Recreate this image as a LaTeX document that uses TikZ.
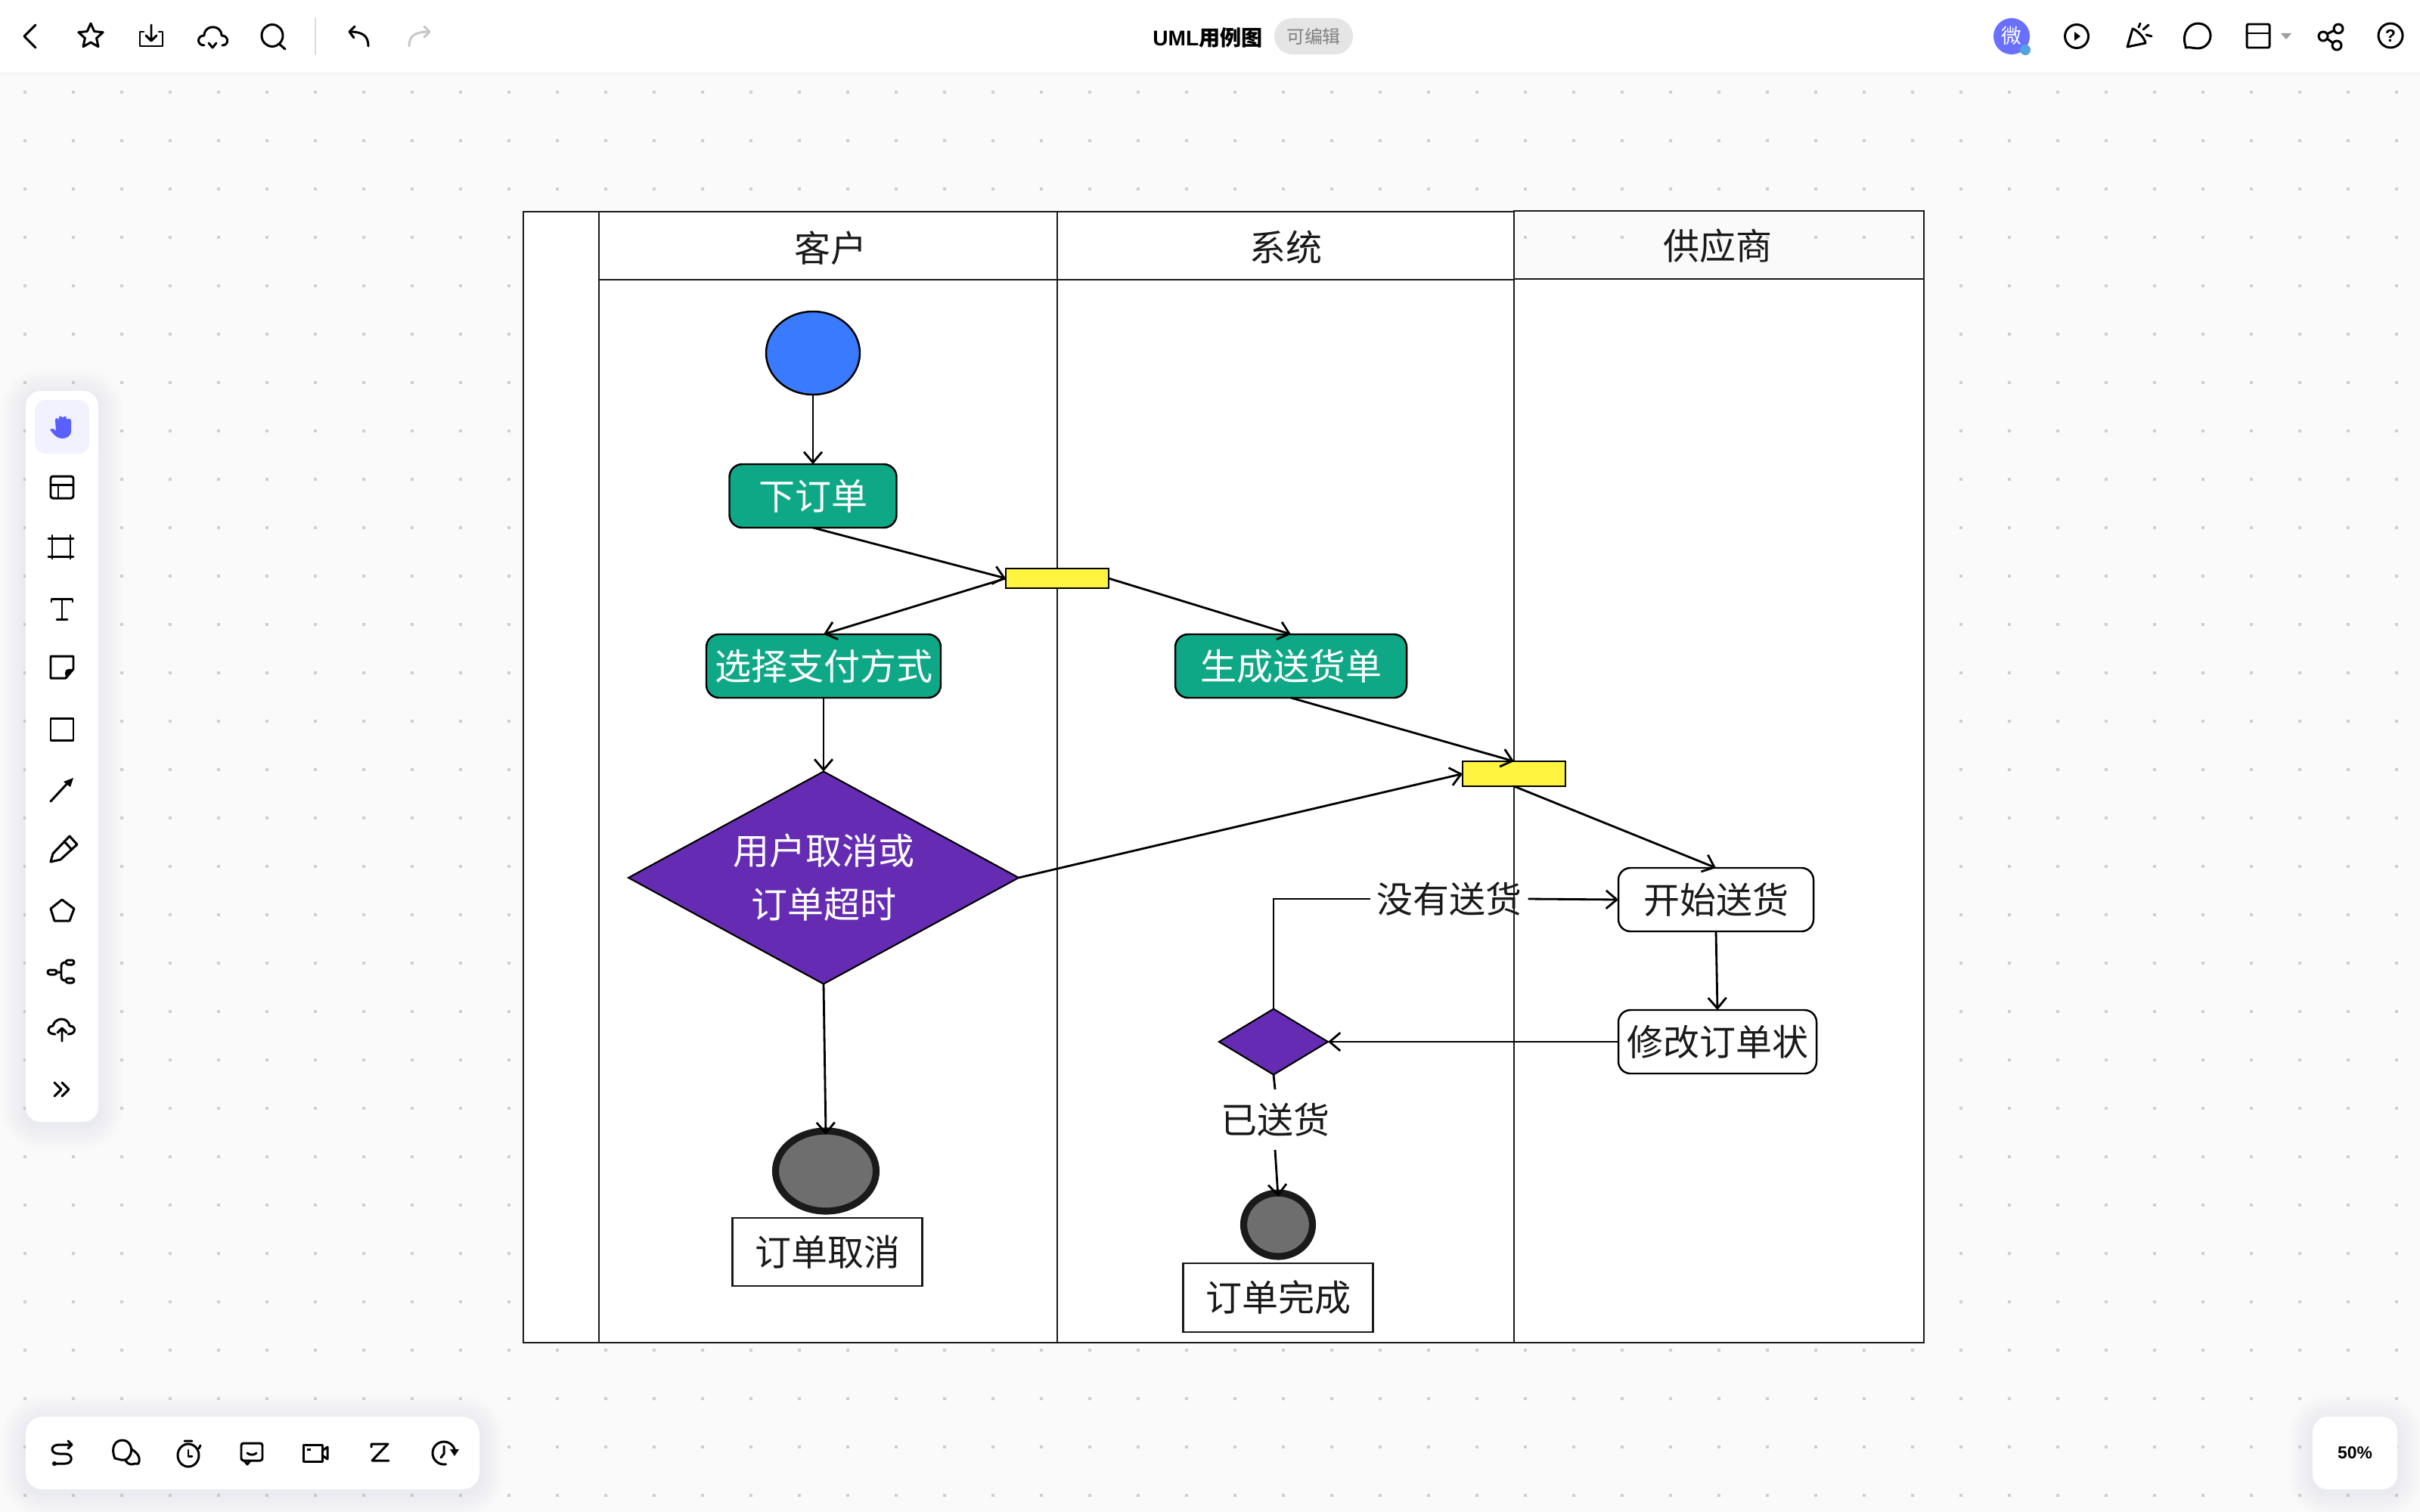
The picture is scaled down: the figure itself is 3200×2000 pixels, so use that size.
\documentclass[tikz,border=0pt]{standalone}
\usepackage{fontspec}
\usetikzlibrary{arrows.meta,shapes.geometric,calc}
\setmainfont{Noto Sans CJK SC}
\newfontfamily\lib{Liberation Sans}
\definecolor{bgc}{HTML}{FAFAFA}
\definecolor{dotc}{HTML}{CFCFCF}
\definecolor{ink}{HTML}{1A1A1A}
\definecolor{teal}{HTML}{0FA886}
\definecolor{purp}{HTML}{652CB3}
\definecolor{bluec}{HTML}{3A7AFE}
\definecolor{yel}{HTML}{FFF440}
\definecolor{greyc}{HTML}{6E6E6E}
\definecolor{accent}{HTML}{5860FF}
\definecolor{shad}{HTML}{50587A}
\newcommand\bodytxt{\fontsize{13.65pt}{20.2pt}\selectfont}
\newcommand\softpanel[5]{%
  \foreach \s in {4,8,...,32}{\fill[shad,opacity=0.006,rounded corners={(#5+\s)*0.01cm}] ({#1-\s},{#2-\s+4}) rectangle ({#3+\s},{#4+\s+4});}
  \fill[white,rounded corners={#5*0.01cm}] (#1,#2) rectangle (#3,#4);}
\tikzset{
  x=0.01cm,y=-0.01cm,
  wh/.style 2 args={minimum width=#1*0.01cm,minimum height=#2*0.01cm},
  base/.style={inner sep=0pt,outer sep=0pt,font=\bodytxt,text=ink,align=center},
  shapeline/.style={draw=black,line width=0.7pt},
  action/.style={base,shapeline,rectangle,rounded corners=0.17cm,fill=teal,text=white},
  plainstate/.style={base,shapeline,rectangle,rounded corners=0.16cm,fill=white},
  note/.style={base,draw=ink,line width=0.6pt,rectangle,fill=white},
  bar/.style={base,shapeline,rectangle,fill=yel},
  decision/.style={base,draw=black,line width=0.6pt,diamond,fill=purp,text=white},
  final/.style={base,ellipse,draw=ink,line width=2.6pt,fill=greyc},
  lanehead/.style={base},
  label/.style={base},
  flow/.style={draw=black,line width=0.8pt,-{Straight Barb[length=4pt,width=6.8pt]}},
  plainflow/.style={draw=black,line width=0.8pt},
  lane/.style={draw=ink,line width=0.62pt},
  ic/.style={draw=black,line width=0.85pt,line cap=round,line join=round},
  icsoft/.style={draw=#1,line width=0.85pt,line cap=round,line join=round},
  icfill/.style={fill=black,draw=none},
}
\begin{document}
\begin{tikzpicture}
\useasboundingbox (0,0) rectangle (3200,2000);
\clip (0,0) rectangle (3200,2000);
% canvas
\fill[bgc] (0,0) rectangle (3200,2000);
\foreach \i in {0,...,49}{\foreach \j in {0,...,29}{\fill[dotc] ({31+64*\i},{120+64*\j}) rectangle ++(4,4);}}
% top bar
\fill[black,opacity=0.012] (0,96) rectangle (3200,100);
\fill[black,opacity=0.012] (0,96) rectangle (3200,98);
\fill[white] (0,0) rectangle (3200,96);
% panels
\softpanel{34}{517}{130}{1484}{20}
\softpanel{34}{1874}{634}{1970}{22}
\softpanel{3058}{1874}{3170}{1970}{20}
% swimlanes
\fill[white] (692,280) rectangle (2002,1776);
\fill[white] (2002,369) rectangle (2544,1776);
\draw[lane] (692,280) rectangle (2002,1776);
\draw[lane] (792,280) -- (792,1776);
\draw[lane] (1398,280) -- (1398,1776);
\draw[lane] (792,370) -- (2002,370);
\draw[lane] (2002,279) rectangle (2544,1776);
\draw[lane] (2002,369) -- (2544,369);
\node[lanehead] (h1) at (1098,328) {客户};
\node[lanehead] (h2) at (1700,327) {系统};
\node[lanehead] (h3) at (2271,325) {供应商};
% flow nodes
\node[base,ellipse,draw=black,line width=0.7pt,fill=bluec,wh={124}{110}] (start) at (1075,467) {};
\node[action,wh={221}{84}] (order) at (1075,656) {下订单};
\node[bar,wh={136}{26}] (fork1) at (1398,765) {};
\node[action,wh={310}{84}] (pay) at (1089,881) {选择支付方式};
\node[action,wh={306}{84}] (ship) at (1707,881) {生成送货单};
\node[decision,wh={516}{281},aspect=1.836] (cancelq) at (1089,1161) {\raisebox{-0.03cm}{用户取消或}\\\raisebox{-0.03cm}{订单超时}};
\node[bar,wh={136}{33}] (fork2) at (2002,1023.5) {};
\node[plainstate,wh={258}{84}] (begin) at (2269,1190) {开始送货};
\node[plainstate,wh={262}{84}] (update) at (2271,1378) {修改订单状};
\node[decision,wh={144}{87},aspect=1.655] (shipq) at (1684,1378) {};
\node[final,wh={133}{106}] (end1) at (1092,1549) {};
\node[note,wh={251}{90}] (end1t) at (1094,1656) {订单取消};
\node[final,wh={91}{84}] (end2) at (1690,1620) {};
\node[note,wh={251}{91}] (end2t) at (1690,1716.5) {订单完成};
\node[label,wh={209}{60}] (noship) at (1916,1189) {没有送货};
\node[label,wh={140}{80}] (shipped) at (1686,1481) {已送货};
% connectors
\draw[flow] (start.south) -- (order.north);
\draw[flow] (order.south) -- (fork1.west);
\draw[flow] (fork1.west) -- (pay.north);
\draw[flow] (fork1.east) -- (ship.north);
\draw[flow] (ship.south) -- (fork2.north);
\draw[flow] (pay.south) -- (cancelq.north);
\draw[flow] (cancelq.east) -- (fork2.west);
\draw[flow] (cancelq.south) -- ($(end1.north)+(0,5)$);
\draw[flow] (fork2.south) -- (begin.north);
\draw[flow] (begin.south) -- (update.north);
\draw[flow] (update.west) -- (shipq.east);
\draw[plainflow] (shipq.north) |- (noship.west);
\draw[flow] (noship.east) -- (begin.west);
\draw[plainflow] (shipq.south) -- (shipped.north);
\draw[flow] (shipped.south) -- ($(end2.north)+(0,5)$);
% top bar centre
\node[base,font=\fontsize{8pt}{9pt}\selectfont\bfseries,text=black] (title) at (1597,50) {{\lib UML}用例图};
\node[base,fill=black!10,rounded corners=0.24cm,wh={104}{48},font=\fontsize{6.8pt}{8pt}\selectfont,text=black!50] (pill) at (1737,48) {可编辑};
% top bar left icons
\draw[ic] (47,33) -- (32,48) -- (47,63);
\draw[ic,shift={(120,48)}] (-90:17) -- (-54:8) -- (-18:17) -- (18:8) -- (54:17) -- (90:8) -- (126:17) -- (162:8) -- (198:17) -- (234:8) -- cycle;
\draw[ic] (190,42) -- (185,42) -- (185,61) -- (215,61) -- (215,42) -- (210,42);
\draw[ic] (200,33) -- (200,54) (193,47) -- (200,54) -- (207,47);
\draw[ic] (270,60) .. controls (260,60) and (260,47) .. (270,47) .. controls (270,32) and (293,32) .. (293,47) .. controls (303,47) and (303,60) .. (294,60);
\draw[ic] (276,57) -- (281,63) -- (286,57);
\draw[ic] (360,47) ellipse [x radius=14,y radius=14.5];
\draw[ic] (369,58) -- (377,65);
\draw[draw=black!14,line width=0.5pt] (417,24) -- (417,72);
\draw[ic] (487,61) .. controls (487,48) and (480,42) .. (463,42);
\draw[ic] (469,35) -- (462,42) -- (468,50);
\draw[icsoft={black!22}] (541,61) .. controls (541,48) and (548,42) .. (567,42);
\draw[icsoft={black!22}] (561,35) -- (568,42) -- (561,49);
% top bar right icons
\fill[accent!90!white] (2660,48) circle [radius=24];
\node[base,font=\fontsize{7.6pt}{9pt}\selectfont,text=white] (avatar) at (2660,47) {微};
\fill[cyan!70!blue!70!white] (2678,66) circle [radius=7];
\draw[ic] (2746,48) ellipse [x radius=15.5,y radius=15.5];
\fill[black] (2743,42) -- (2751,48) -- (2743,54) -- cycle;
\draw[ic] (2813,62) -- (2820,38) .. controls (2826,40) and (2836,50) .. (2837,57) -- cycle;
\draw[ic] (2828,36) -- (2830,31) (2834,39) -- (2841,33) (2838,46) -- (2845,48);
\draw[ic] (2890,61) .. controls (2884,42) and (2896,31) .. (2906,31) .. controls (2918,31) and (2923,40) .. (2923,47) .. controls (2923,57) and (2915,64) .. (2906,64) .. controls (2900,64) and (2898,62) .. (2890,63) -- cycle;
\draw[ic,rounded corners=0.02cm] (2971,32) rectangle (3001,63);
\draw[ic] (2971,44) -- (3001,44);
\fill[black!38] (3016,44) -- (3030,44) -- (3023,52) -- cycle;
\draw[ic] (3072,48) circle [radius=6] (3092,38) circle [radius=6] (3090,60) circle [radius=6];
\draw[ic] (3077,45) -- (3087,40) (3077,51) -- (3085,57);
\draw[ic] (3161,47) ellipse [x radius=16,y radius=16];
\node[base,font=\fontsize{6.6pt}{8pt}\selectfont\lib\bfseries,text=black] (help) at (3161,47) {?};
% zoom
\node[base,font=\fontsize{6.5pt}{8pt}\selectfont\lib\bfseries,text=black] (pct) at (3114,1922) {50\%};
% left toolbar
\fill[accent!8!white,rounded corners=0.14cm] (46,529) rectangle (118,600);
\fill[accent] (66,568) .. controls (70,566) and (73,568) .. (74,570) -- (73,556) .. controls (73,552) and (77,552) .. (77,556) -- (78,552) .. controls (78,550) and (82,550) .. (82,552) -- (83,552) .. controls (84,550) and (88,550) .. (88,553) -- (89,555) .. controls (90,553) and (94,553) .. (94,557) -- (94,570) .. controls (94,577) and (88,580) .. (82,580) .. controls (75,580) and (70,574) .. (66,568) -- cycle;
\draw[ic,rounded corners=0.03cm] (67,630) rectangle (97,659);
\draw[ic] (67,641.5) -- (97,641.5) (77,641.5) -- (77,659);
\draw[ic] (64,712) -- (97,712) (64,736) -- (97,736) (69,708) -- (69,739) (93,708) -- (93,739);
\draw[ic] (68,796) -- (68,792) -- (96,792) -- (96,796) (82,792) -- (82,819) (75,819) -- (89,819);
\draw[ic] (67,868) -- (97,868) -- (97,885) -- (87,897) -- (67,897) -- cycle;
\fill[black] (97,885) -- (87,897) -- (86,890) .. controls (86,887) and (88,885) .. (90,885) -- cycle;
\draw[ic] (67,950) rectangle (97,979);
\draw[ic] (67,1060) -- (92,1033);
\fill[black] (97,1029) -- (93,1041) -- (84,1034) -- cycle;
\draw[ic] (67,1140) -- (70,1129) -- (92,1106) -- (102,1117) -- (80,1137) -- cycle;
\draw[ic] (85,1113) -- (95,1124);
\draw[ic] (82,1190) -- (98,1202) -- (92,1218) -- (72,1218) -- (67,1202) -- cycle;
\draw[ic,rounded corners=0.03cm] (63,1283) rectangle (75,1289);
\draw[ic,rounded corners=0.03cm] (87,1270) rectangle (98,1276);
\draw[ic,rounded corners=0.03cm] (87,1294) rectangle (98,1300);
\draw[ic] (75,1286) -- (81,1286) (87,1273) .. controls (82,1273) and (81,1275) .. (81,1279) -- (81,1291) .. controls (81,1295) and (82,1297) .. (87,1297);
\draw[ic] (73,1368) .. controls (62,1368) and (61,1358) .. (70,1357) .. controls (73,1345) and (90,1345) .. (92,1357) .. controls (101,1357) and (101,1368) .. (90,1368);
\draw[ic] (82,1377) -- (82,1360) (76,1366) -- (82,1360) -- (88,1366);
\draw[ic] (72,1432) -- (81,1441) -- (72,1450) (82,1432) -- (91,1441) -- (82,1450);
% bottom toolbar
\draw[ic] (95,1911) -- (78,1911) .. controls (66,1911) and (66,1923) .. (78,1923) -- (86,1923) .. controls (97,1923) and (97,1936) .. (86,1936) -- (72,1936);
\draw[ic] (90,1906) -- (95,1911) -- (90,1916);
\fill[black] (72,1936) circle [radius=3];
\draw[ic] (152,1929) .. controls (146,1915) and (152,1905) .. (162,1905) .. controls (174,1905) and (178,1922) .. (168,1930) .. controls (162,1933) and (158,1930) .. cycle;
\draw[ic] (174,1917) .. controls (186,1924) and (185,1932) .. (183,1936) -- (178,1936) .. controls (174,1938) and (169,1937) .. (166,1932);
\draw[ic] (249,1925) ellipse [x radius=14,y radius=15];
\draw[ic] (244,1906) -- (254,1906) (263,1916) -- (265,1912);
\draw[ic] (249,1918) -- (249,1926) -- (254,1926);
\draw[ic,rounded corners=0.03cm] (319,1909) rectangle (347,1932);
\draw[ic] (323,1932) -- (327,1937) -- (331,1932);
\draw[ic] (327,1922) .. controls (330,1925) and (336,1925) .. (339,1922);
\draw[ic] (401,1911) rectangle (426,1933);
\draw[ic] (426,1919) -- (433,1914) -- (433,1930) -- (426,1925);
\fill[black] (406,1916) rectangle (411,1919);
\draw[ic] (491,1914) -- (491,1910) -- (513,1910) -- (492,1932) -- (514,1932);
\draw[ic] (589.6,1936.8) arc [start angle=80,end angle=350,radius=15];
\fill[black] (595,1917) -- (607,1917) -- (601,1926) -- cycle;
\draw[ic] (587,1913) -- (587,1923) -- (583,1928);
\end{tikzpicture}
\end{document}
